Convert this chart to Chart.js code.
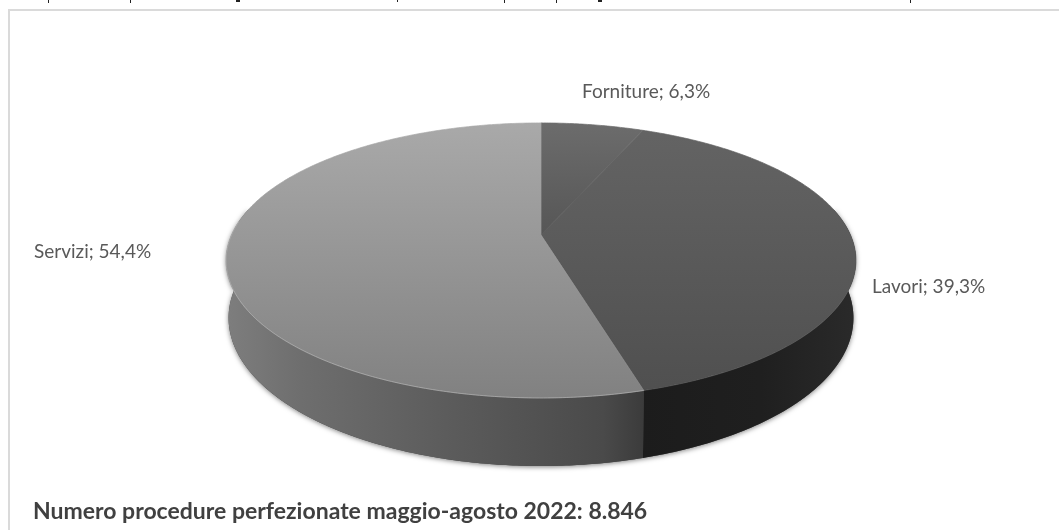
<!DOCTYPE html>
<html lang="it">
<head>
<meta charset="utf-8">
<style>
html,body{margin:0;padding:0;background:#fff;overflow:hidden}
#wrap{position:relative;width:1059px;height:530px}
canvas{position:absolute;left:0;top:0}
</style>
<script src="https://cdn.jsdelivr.net/npm/chart.js@4/dist/chart.umd.min.js"></script>
</head>
<body>
<div id="wrap"><canvas id="c" width="1059" height="530"></canvas></div>
<script>
const categories = ["Forniture", "Lavori", "Servizi"];
const shares = [6.3, 39.3, 54.4];
const footnote = "Numero procedure perfezionate maggio-agosto 2022: 8.846";

// perspective projection of the pie disc
const CX = 541, CY = 235, RX = 309.5, RY = 132.8, K = -0.185, DEPTH = 55.5;
function proj(theta, h) {
  const u = Math.cos(theta), v = Math.sin(theta), d = 1 + K * v;
  return [CX + RX * u * (1 - 0.008 * h) / d, CY + (RY * v + DEPTH * h) / d];
}
function sampleArc(a, b, h) {
  const n = Math.max(2, Math.ceil(Math.abs(b - a) / 0.01)), pts = [];
  for (let i = 0; i <= n; i++) pts.push(proj(a + (b - a) * i / n, h));
  return pts;
}
function path(ctx, pts) {
  ctx.beginPath();
  pts.forEach((p, i) => i ? ctx.lineTo(p[0], p[1]) : ctx.moveTo(p[0], p[1]));
  ctx.closePath();
}
function vGrad(ctx, y0, y1, c0, c1) {
  const g = ctx.createLinearGradient(0, y0, 0, y1);
  g.addColorStop(0, c0); g.addColorStop(1, c1);
  return g;
}
function hGrad(ctx, stops) {
  const g = ctx.createLinearGradient(225, 0, 855, 0);
  stops.forEach(s => g.addColorStop(s[0], s[1]));
  return g;
}

const pie3d = {
  id: "pie3d",
  beforeDraw(chart) {
    const ctx = chart.ctx;
    ctx.save();
    ctx.fillStyle = "#dadada";
    ctx.fillRect(8, 9, 1051, 2);
    ctx.fillRect(8, 9, 2, 521);
    ctx.fillStyle = "#222";
    [[48,0,1,3],[130,0,1,3],[236,0,4,2],[397,0,1,2],[504,0,1,3],[556,0,1,3],[598,0,4,2],[910,0,1,3]]
      .forEach(r => ctx.fillRect(r[0], r[1], r[2], r[3]));
    ctx.restore();
  },
  beforeDatasetDraw(chart) {
    const ctx = chart.ctx, arcs = chart.getDatasetMeta(0).data;
    ctx.save();

    // soft shadow under the disc
    ctx.save();
    ctx.shadowColor = "rgba(0,0,0,0.5)";
    ctx.shadowBlur = 5;
    ctx.shadowOffsetY = 1;
    ctx.fillStyle = "#444";
    path(ctx, sampleArc(-0.2, Math.PI + 0.2, 1).concat(sampleArc(Math.PI + 0.2, -0.2, 0)));
    ctx.fill();
    ctx.restore();

    // rim
    const rim = [null,
      hGrad(ctx, [[0.66, "#1c1c1c"], [0.85, "#1f1f1f"], [1, "#2a2a2a"]]),
      hGrad(ctx, [[0, "#7e7e7e"], [0.12, "#6e6e6e"], [0.35, "#5c5c5c"], [0.6, "#4a4a4a"], [0.67, "#3a3a3a"]])];
    arcs.forEach((a, i) => {
      if (!rim[i]) return;
      const s = Math.max(a.startAngle, -0.2), e = Math.min(a.endAngle, Math.PI + 0.2);
      if (e <= s) return;
      path(ctx, sampleArc(s, e, 0).concat(sampleArc(e, s, 1)));
      ctx.fillStyle = rim[i];
      ctx.fill();
    });

    // top faces
    const faces = [
      vGrad(ctx, 123, 235, "#6c6c6c", "#565656"),
      vGrad(ctx, 123, 398, "#646464", "#4f4f4f"),
      vGrad(ctx, 123, 398, "#a9a9a9", "#818181")];
    [1, 0, 2].forEach(i => {
      const a = arcs[i];
      path(ctx, [[CX, CY]].concat(sampleArc(a.startAngle, a.endAngle, 0)));
      ctx.fillStyle = faces[i];
      ctx.strokeStyle = faces[i];
      ctx.lineWidth = 0.7;
      ctx.fill();
      ctx.stroke();
    });

    // rim highlight on the light slice
    const last = arcs[2];
    ctx.beginPath();
    sampleArc(last.startAngle, Math.PI + 0.1, 0).forEach((p, i) => i ? ctx.lineTo(p[0], p[1]) : ctx.moveTo(p[0], p[1]));
    ctx.strokeStyle = "rgba(190,190,190,0.55)";
    ctx.lineWidth = 1;
    ctx.stroke();
    ctx.restore();
    return false;
  },
  afterDraw(chart) {
    const ctx = chart.ctx;
    ctx.save();
    const text = i => categories[i] + "; " + shares[i].toFixed(1).replace(".", ",") + "%";
    ctx.fillStyle = "#595959";
    ctx.textBaseline = "alphabetic";
    ctx.font = "19px Lato, 'Noto Sans', sans-serif";
    ctx.textAlign = "left";
    ctx.fillText(text(0), 582, 98, 145);
    ctx.fillText(text(1), 872, 293, 135);
    ctx.fillText(text(2), 34, 258, 158);
    ctx.fillStyle = "#404040";
    ctx.font = "bold 23px Lato, 'Noto Sans', sans-serif";
    ctx.fillText(footnote, 33, 519, 660);
    ctx.restore();
  }
};

new Chart(document.getElementById("c"), {
  type: "pie",
  data: { labels: categories, datasets: [{ data: shares, borderWidth: 0 }] },
  options: {
    responsive: false,
    animation: false,
    events: [],
    plugins: { legend: { display: false }, tooltip: { enabled: false }, title: { display: false } }
  },
  plugins: [pie3d]
});
</script>
</body>
</html>
